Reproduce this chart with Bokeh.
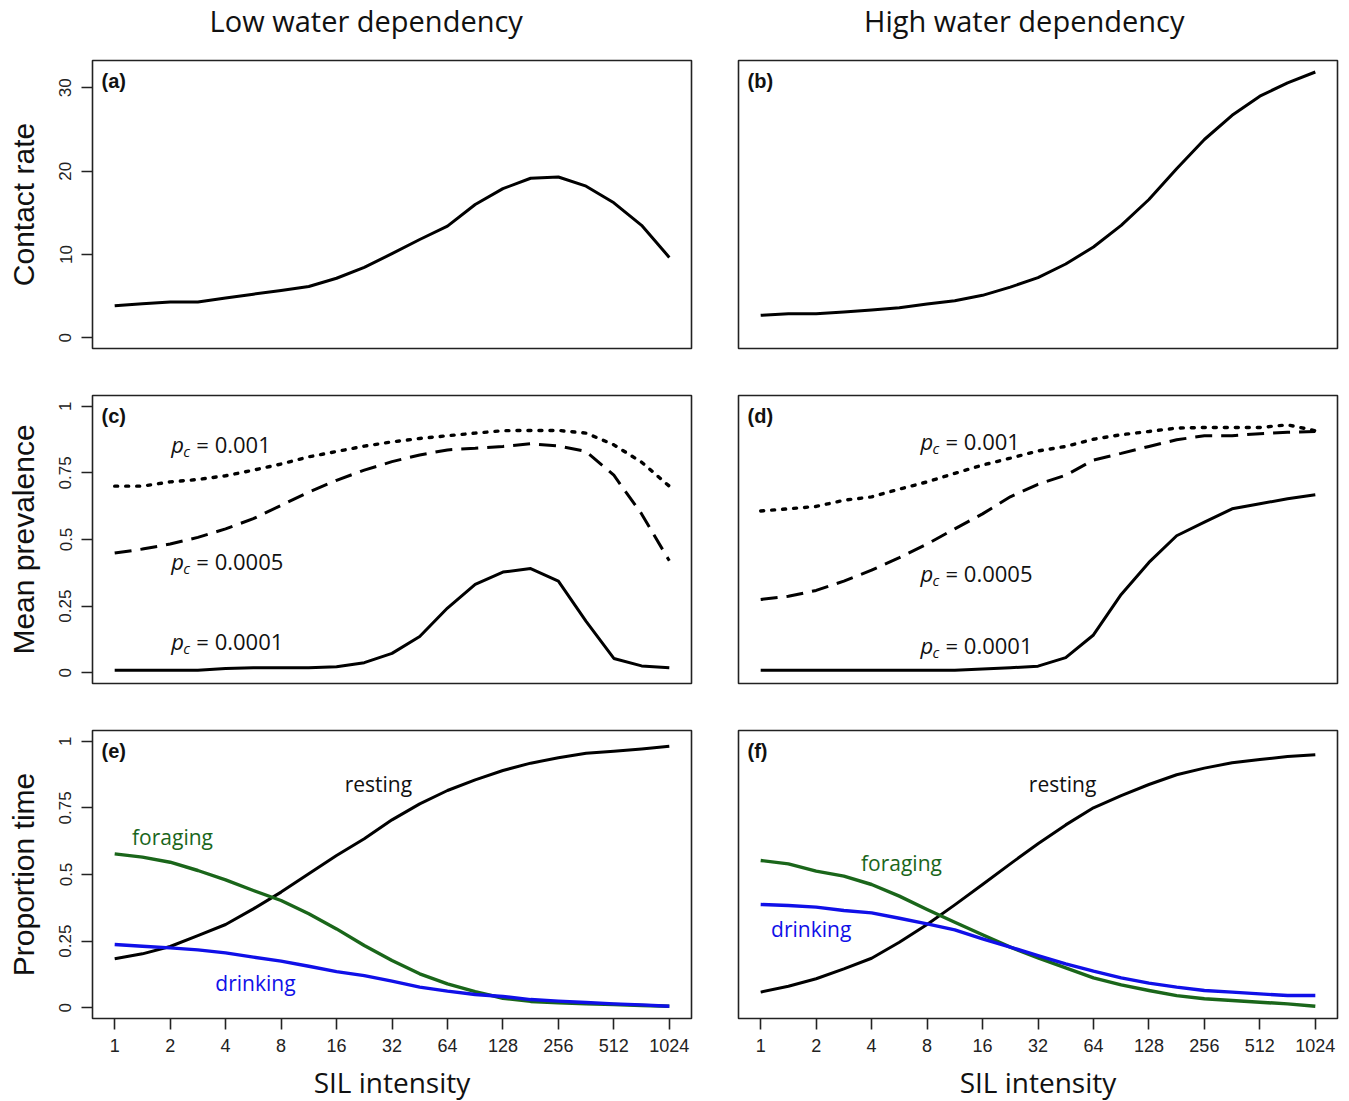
from bokeh.plotting import figure
from bokeh.layouts import gridplot
from bokeh.models import Range1d, FixedTicker, Label
from bokeh.core.properties import value
from bokeh.embed import file_html
from bokeh.resources import INLINE

# ---------------- data ----------------
SIL = [1, 1.414, 2, 2.828, 4, 5.657, 8, 11.31, 16, 22.63, 32, 45.25, 64,
       90.51, 128, 181.0, 256, 362.0, 512, 724.1, 1024]
X_TICKS = [1, 2, 4, 8, 16, 32, 64, 128, 256, 512, 1024]
X_TICK_LABELS = ["1", "2", "4", "8", "16", "32", "64", "128", "256", "512", "1024"]

CONTACT_TICKS = [0, 10, 20, 30]
CONTACT_TICK_LABELS = ["0", "10", "20", "30"]
PROP_TICKS = [0, 0.25, 0.5, 0.75, 1]
PROP_TICK_LABELS = ["0", "0.25", "0.5", "0.75", "1"]

column_titles = ["Low water dependency", "High water dependency"]
panel_letters = ["(a)", "(b)", "(c)", "(d)", "(e)", "(f)"]
pc_values = ["0.001", "0.0005", "0.0001"]

contact_low = [3.85, 4.1, 4.3, 4.3, 4.77, 5.24, 5.68, 6.16, 7.15, 8.46, 10.1,
               11.8, 13.4, 16.0, 17.9, 19.15, 19.3, 18.2, 16.2, 13.5, 9.65]
contact_high = [2.7, 2.9, 2.9, 3.1, 3.34, 3.6, 4.05, 4.45, 5.1, 6.08, 7.23,
                8.86, 10.9, 13.5, 16.6, 20.3, 23.8, 26.7, 29.0, 30.6, 31.9]

prev_low_001 = [0.70, 0.70, 0.716, 0.725, 0.739, 0.76, 0.783, 0.81, 0.83, 0.85, 0.866,
                0.879, 0.889, 0.899, 0.908, 0.909, 0.909, 0.899, 0.855, 0.79, 0.70]
prev_low_0005 = [0.449, 0.464, 0.483, 0.508, 0.54, 0.578, 0.628, 0.678, 0.722, 0.76, 0.792,
                 0.817, 0.836, 0.842, 0.849, 0.859, 0.851, 0.83, 0.741, 0.596, 0.42]
prev_low_0001 = [0.01, 0.01, 0.01, 0.01, 0.016, 0.019, 0.019, 0.019, 0.023, 0.038, 0.073,
                 0.136, 0.243, 0.332, 0.378, 0.391, 0.344, 0.193, 0.054, 0.026, 0.019]

prev_high_001 = [0.607, 0.615, 0.624, 0.647, 0.66, 0.689, 0.716, 0.748, 0.779, 0.805, 0.832,
                 0.849, 0.876, 0.893, 0.905, 0.918, 0.92, 0.92, 0.92, 0.93, 0.908]
prev_high_0005 = [0.275, 0.287, 0.309, 0.344, 0.385, 0.432, 0.483, 0.54, 0.596, 0.66, 0.707,
                  0.741, 0.798, 0.823, 0.849, 0.874, 0.889, 0.889, 0.897, 0.902, 0.905]
prev_high_0001 = [0.01, 0.01, 0.01, 0.01, 0.01, 0.01, 0.01, 0.01, 0.014, 0.019, 0.025,
                  0.057, 0.142, 0.294, 0.414, 0.514, 0.565, 0.615, 0.634, 0.653, 0.668]

rest_low = [0.184, 0.2025, 0.23, 0.271, 0.3125, 0.371, 0.434, 0.5025, 0.571, 0.634, 0.705,
            0.765, 0.815, 0.855, 0.89, 0.9175, 0.9375, 0.955, 0.9625, 0.971, 0.981]
forage_low = [0.5775, 0.565, 0.546, 0.515, 0.48, 0.44, 0.4025, 0.3525, 0.296, 0.234, 0.1775,
              0.1275, 0.09, 0.061, 0.036, 0.024, 0.019, 0.015, 0.0125, 0.009, 0.006]
drink_low = [0.2375, 0.231, 0.225, 0.2175, 0.206, 0.19, 0.175, 0.156, 0.136, 0.121, 0.1,
             0.0775, 0.0625, 0.05, 0.0425, 0.031, 0.025, 0.02, 0.015, 0.011, 0.006]

rest_high = [0.059, 0.081, 0.109, 0.146, 0.186, 0.246, 0.3125, 0.386, 0.4625, 0.54, 0.615,
             0.686, 0.75, 0.796, 0.8375, 0.874, 0.899, 0.919, 0.931, 0.9425, 0.949]
forage_high = [0.5525, 0.54, 0.5125, 0.494, 0.4625, 0.419, 0.369, 0.321, 0.274, 0.2275, 0.1875,
               0.15, 0.1125, 0.086, 0.065, 0.046, 0.034, 0.0275, 0.021, 0.015, 0.006]
drink_high = [0.3875, 0.384, 0.3775, 0.365, 0.356, 0.336, 0.315, 0.2925, 0.259, 0.2275, 0.196,
              0.165, 0.1375, 0.1125, 0.0925, 0.0775, 0.065, 0.059, 0.0525, 0.046, 0.046]

# ---------------- style ----------------
GREEN = "#1a661a"
BLUE = "#1010e8"
TXT_FONT = "Open Sans"
AX_FONT = "Liberation Sans"
FRAME_W, FRAME_H = 599, 288
XR = (2 ** -0.4, 2 ** 10.4)


def make_header(col):
    left = col == 0
    h = figure(
        x_range=Range1d(0, 1), y_range=Range1d(0, 1),
        frame_width=FRAME_W, frame_height=52,
        min_border_left=92 if left else 24,
        min_border_right=23 if left else 2,
        min_border_top=0, min_border_bottom=0,
        x_axis_location=None, y_axis_location=None,
        toolbar_location=None, output_backend="svg",
        background_fill_color="white", border_fill_color="white",
    )
    h.xgrid.visible = False
    h.ygrid.visible = False
    h.outline_line_color = None
    h.text(x=[0.457 if left else 0.477], y=[0.615], text=[column_titles[col]],
           text_font=value(TXT_FONT), text_font_size="29px", text_align="center",
           text_baseline="middle", text_color="#111111")
    return h


def make_fig(col, row):
    left = col == 0
    bottom = row == 2
    yr = (-1.28, 33.28) if row == 0 else (-0.04, 1.04)
    p = figure(
        x_axis_type="log",
        x_range=Range1d(*XR), y_range=Range1d(*yr),
        frame_width=FRAME_W, frame_height=FRAME_H,
        min_border_left=92 if left else 24,
        min_border_right=23 if left else 2,
        min_border_top=8 if row == 0 else 24,
        min_border_bottom=75 if bottom else 23,
        x_axis_location="below" if bottom else None,
        y_axis_location="left" if left else None,
        toolbar_location=None, output_backend="svg",
        background_fill_color="white", border_fill_color="white",
    )
    p.xgrid.visible = False
    p.ygrid.visible = False
    p.outline_line_color = "#222222"
    p.outline_line_width = 1.6
    for ax in p.axis:
        ax.axis_line_color = None
        ax.major_tick_line_color = "#222222"
        ax.major_tick_line_width = 1.6
        ax.major_tick_out = 11
        ax.major_tick_in = 0
        ax.minor_tick_line_color = None
        ax.major_label_text_font = AX_FONT
        ax.major_label_text_color = "#222222"
    if bottom:
        xa = p.xaxis[0]
        xa.ticker = FixedTicker(ticks=X_TICKS)
        xa.major_label_overrides = {t: l for t, l in zip(X_TICKS, X_TICK_LABELS)}
        xa.major_label_text_font_size = "18px"
        xa.major_label_standoff = 9
        xa.axis_label = "SIL intensity"
        xa.axis_label_text_font = TXT_FONT
        xa.axis_label_text_font_size = "28px"
        xa.axis_label_text_font_style = "normal"
        xa.axis_label_text_color = "#111111"
        xa.axis_label_standoff = 8
    if left:
        ya = p.yaxis[0]
        if row == 0:
            ya.ticker = FixedTicker(ticks=CONTACT_TICKS)
            ya.major_label_overrides = {t: l for t, l in zip(CONTACT_TICKS, CONTACT_TICK_LABELS)}
        else:
            ya.ticker = FixedTicker(ticks=PROP_TICKS)
            ya.major_label_overrides = {t: l for t, l in zip(PROP_TICKS, PROP_TICK_LABELS)}
        ya.major_label_orientation = "vertical"
        ya.major_label_text_font_size = "17px"
        ya.major_label_standoff = 10
        ya.axis_label = ["Contact rate", "Mean prevalence", "Proportion time"][row]
        ya.axis_label_text_font = AX_FONT
        ya.axis_label_text_font_size = "30px"
        ya.axis_label_text_font_style = "normal"
        ya.axis_label_text_color = "#111111"
        ya.axis_label_standoff = 17
    # panel letter
    p.add_layout(Label(x=9, y=FRAME_H - 20, x_units="screen", y_units="screen",
                       text=panel_letters[row * 2 + col], text_font="Liberation Sans Narrow, Liberation Sans",
                       text_font_style="bold", text_font_size="20px", text_baseline="middle",
                       text_align="left", text_color="#111111"))
    return p


def pc_label(p, x, y, val):
    p.add_layout(Label(x=x, y=y, text="p", text_font=TXT_FONT, text_font_style="italic",
                       text_font_size="22px", text_baseline="middle", text_align="left",
                       text_color="#111111"))
    p.add_layout(Label(x=x, y=y, x_offset=12, y_offset=-7, text="c", text_font=TXT_FONT,
                       text_font_style="italic", text_font_size="15px", text_baseline="middle",
                       text_align="left", text_color="#111111"))
    p.add_layout(Label(x=x, y=y, x_offset=25, text="= " + val, text_font=TXT_FONT,
                       text_font_size="22px", text_baseline="middle", text_align="left",
                       text_color="#111111"))


def word(p, x, y, txt, color):
    p.add_layout(Label(x=x, y=y, text=txt, text_font=TXT_FONT, text_font_size="21px",
                       text_baseline="middle", text_align="center", text_color=color))


headers = [make_header(0), make_header(1)]
figs = [[make_fig(c, r) for c in range(2)] for r in range(3)]
a, b = figs[0]
c, d = figs[1]
e, f = figs[2]

# (a), (b)
a.line(SIL, contact_low, line_color="black", line_width=3, line_join="round")
b.line(SIL, contact_high, line_color="black", line_width=3, line_join="round")

# (c), (d)
for p, s1, s5, s01 in ((c, prev_low_001, prev_low_0005, prev_low_0001),
                       (d, prev_high_001, prev_high_0005, prev_high_0001)):
    p.line(SIL, s1, line_color="black", line_width=3.4, line_dash="3 8", line_cap="round")
    p.line(SIL, s5, line_color="black", line_width=3, line_dash="17 9")
    p.line(SIL, s01, line_color="black", line_width=3, line_join="round")

pc_label(c, 2.03, 0.86, pc_values[0])
pc_label(c, 2.03, 0.421, pc_values[1])
pc_label(c, 2.03, 0.121, pc_values[2])
pc_label(d, 7.37, 0.871, pc_values[0])
pc_label(d, 7.37, 0.373, pc_values[1])
pc_label(d, 7.37, 0.106, pc_values[2])

# (e), (f)
for p, rs, fo, dr in ((e, rest_low, forage_low, drink_low), (f, rest_high, forage_high, drink_high)):
    p.line(SIL, rs, line_color="black", line_width=3, line_join="round")
    p.line(SIL, fo, line_color=GREEN, line_width=3.4, line_join="round")
    p.line(SIL, dr, line_color=BLUE, line_width=3.4, line_join="round")

word(e, 27.0, 0.841, "resting", "#111111")
word(e, 2.06, 0.642, "foraging", GREEN)
word(e, 5.81, 0.095, "drinking", BLUE)
word(f, 43.5, 0.841, "resting", "#111111")
word(f, 5.81, 0.545, "foraging", GREEN)
word(f, 1.88, 0.294, "drinking", BLUE)

grid = gridplot([headers, [a, b], [c, d], [e, f]], toolbar_location=None)
open("out.html", "w").write(file_html(grid, INLINE))
